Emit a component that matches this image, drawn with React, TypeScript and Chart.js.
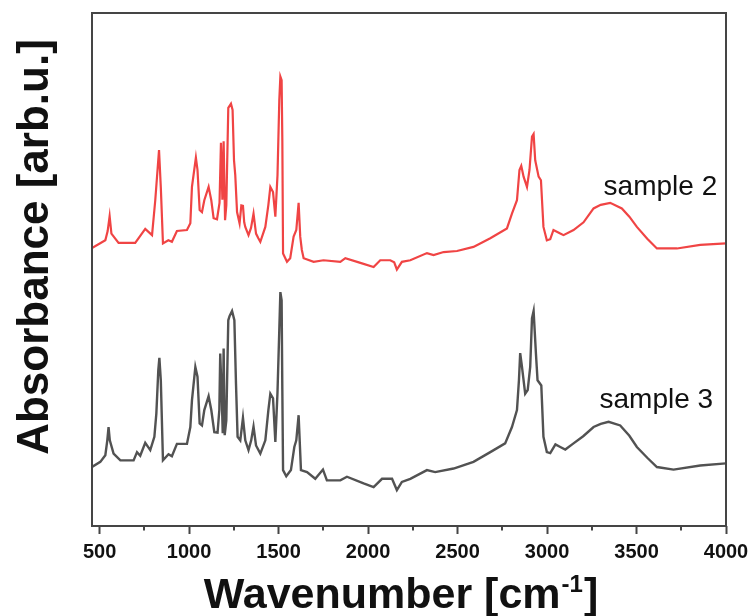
import React, { useEffect, useRef } from "react";
import { Chart, registerables } from "chart.js";

Chart.register(...registerables);

// ---- Data ----
const sample2Wavenumber = [
  457.5, 532, 545, 556, 566, 606, 699, 755, 793, 811,
  832, 842, 854, 884, 904, 932, 988, 1007, 1016, 1038,
  1047, 1059, 1072, 1085, 1109, 1124, 1137, 1156, 1170, 1178,
  1186, 1193, 1201, 1208, 1219, 1234, 1243, 1251, 1258, 1268,
  1282, 1292, 1301, 1308, 1314, 1332, 1346, 1360, 1374, 1387,
  1398, 1426, 1443, 1454, 1469, 1482, 1494, 1504, 1510, 1517,
  1521, 1525, 1547, 1565, 1584, 1599, 1612, 1621, 1630, 1640,
  1696, 1751, 1845, 1873, 1957, 2031, 2068, 2124, 2146, 2161,
  2189, 2236, 2329, 2366, 2422, 2497, 2589, 2683, 2776, 2804,
  2832, 2846, 2856, 2869, 2888, 2902, 2916, 2925, 2934, 2953,
  2966, 2980, 2999, 3018, 3036, 3074, 3092, 3148, 3204, 3260,
  3300, 3353, 3418, 3460, 3502, 3560, 3614, 3726, 3856, 4000,
];
const sample2Absorbance = [
  54.2, 55.7, 57.5, 60.4, 57.0, 55.2, 55.2, 57.9, 56.7, 63.5,
  73.3, 66.0, 55.1, 55.7, 55.4, 57.5, 57.7, 59.0, 66.1, 71.8,
  69.4, 61.6, 61.2, 63.5, 66.1, 63.5, 60.0, 59.8, 63.0, 74.7,
  63.6, 75.0, 59.6, 62.5, 81.5, 82.3, 81.1, 71.3, 68.4, 61.2,
  59.0, 62.5, 62.4, 59.2, 58.3, 56.7, 58.1, 60.9, 57.0, 56.1,
  55.4, 58.3, 62.6, 66.1, 65.1, 60.3, 68.4, 83.0, 87.6, 86.9,
  75.2, 53.1, 51.5, 52.2, 56.4, 57.7, 63.0, 56.4, 53.8, 52.2,
  51.5, 51.8, 51.5, 52.2, 51.3, 50.5, 51.8, 51.8, 51.4, 50.0,
  51.5, 51.8, 53.2, 52.8, 53.4, 53.6, 54.4, 56.1, 58.0, 60.9,
  63.5, 69.4, 70.2, 68.1, 66.1, 69.4, 75.9, 76.4, 71.3, 68.1,
  67.4, 58.3, 55.7, 55.9, 57.7, 57.0, 56.7, 57.7, 59.2, 61.9,
  62.6, 63.0, 61.9, 60.3, 58.3, 56.0, 54.1, 54.1, 54.8, 55.1,
];

const sample3Wavenumber = [
  457.5, 504, 532, 543, 550, 557, 578, 616, 690, 709,
  727, 755, 783, 806, 817, 828, 834, 842, 854, 885,
  904, 932, 988, 1007, 1016, 1035, 1047, 1059, 1072, 1085,
  1109, 1124, 1141, 1159, 1169, 1174, 1183, 1188, 1193, 1199,
  1208, 1219, 1226, 1240, 1253, 1262, 1271, 1286, 1301, 1314,
  1332, 1347, 1360, 1374, 1398, 1426, 1443, 1454, 1469, 1482,
  1494, 1504, 1510, 1517, 1521, 1525, 1543, 1569, 1588, 1599,
  1612, 1625, 1659, 1705, 1748, 1770, 1845, 1882, 1975, 2031,
  2078, 2134, 2161, 2189, 2236, 2329, 2375, 2478, 2589, 2683,
  2766, 2804, 2832, 2843, 2850, 2859, 2878, 2892, 2906, 2916,
  2925, 2938, 2947, 2968, 2980, 2999, 3018, 3047, 3074, 3102,
  3148, 3202, 3260, 3300, 3344, 3409, 3460, 3502, 3560, 3614,
  3707, 3856, 4000,
];
const sample3Absorbance = [
  11.5, 12.5, 13.8, 16.7, 19.3, 16.7, 14.1, 12.8, 12.8, 14.4,
  13.7, 16.2, 14.8, 17.4, 21.9, 30.4, 32.8, 28.4, 12.8, 14.0,
  13.6, 16.0, 16.0, 19.3, 24.5, 31.0, 29.1, 20.0, 19.6, 22.6,
  25.3, 22.6, 18.3, 18.2, 22.6, 33.6, 24.5, 18.1, 34.6, 17.7,
  20.6, 40.1, 40.9, 41.9, 40.1, 27.8, 17.4, 16.7, 21.1, 16.7,
  14.8, 16.7, 19.4, 15.7, 14.1, 16.7, 22.6, 25.8, 24.9, 16.4,
  26.1, 38.2, 45.6, 44.0, 26.5, 10.9, 9.7, 10.9, 15.4, 16.7,
  21.6, 10.9, 10.5, 9.2, 11.0, 8.9, 8.9, 9.6, 8.3, 7.6,
  9.2, 9.2, 7.0, 8.6, 9.2, 10.9, 10.5, 11.2, 12.5, 14.4,
  16.1, 19.3, 22.6, 28.4, 33.7, 31.3, 25.8, 26.5, 31.0, 40.5,
  41.9, 33.6, 28.4, 27.4, 17.4, 14.4, 14.2, 15.9, 15.4, 14.9,
  16.1, 17.5, 19.3, 19.9, 20.3, 19.6, 17.6, 15.4, 13.3, 11.5,
  11.0, 11.8, 12.2,
];

const seriesNames = ["sample 2", "sample 3"];
const seriesLabelAnchors = [
  { x: 3951, y: 64.5 },
  { x: 3928, y: 23.0 },
];
const majorTickValues = [500, 1000, 1500, 2000, 2500, 3000, 3500, 4000];
const minorTickValues = [750, 1250, 1750, 2250, 2750, 3250, 3750];
const xTitle = ["Wavenumber [cm", "-1", "]"];
const yTitle = "Absorbance [arb.u.]";

const FONT = "'Liberation Sans', Arial, Helvetica, sans-serif";
const FRAME = "#454545";

export default function App() {
  const canvasRef = useRef<HTMLCanvasElement>(null);

  useEffect(() => {
    document.body.style.margin = "0";
    const canvas = canvasRef.current;
    if (!canvas) return;

    const decor = {
      id: "decor",
      afterDraw(chart: any) {
        const { ctx, chartArea: a, scales } = chart;
        const xs = scales.x;
        const ys = scales.y;
        ctx.save();
        // frame
        ctx.strokeStyle = FRAME;
        ctx.lineWidth = 2;
        ctx.strokeRect(a.left, a.top, a.right - a.left, a.bottom - a.top);
        // minor ticks
        ctx.beginPath();
        for (const v of minorTickValues) {
          const px = Math.round(xs.getPixelForValue(v));
          ctx.moveTo(px, a.bottom);
          ctx.lineTo(px, a.bottom + 4.5);
        }
        ctx.stroke();
        // series labels
        ctx.fillStyle = "#111";
        ctx.font = `28px ${FONT}`;
        ctx.textAlign = "right";
        ctx.textBaseline = "alphabetic";
        seriesNames.forEach((name, i) => {
          const p = seriesLabelAnchors[i];
          ctx.fillText(name, xs.getPixelForValue(p.x), ys.getPixelForValue(p.y));
        });
        // x title with superscript
        const big = `bold 43px ${FONT}`;
        const small = `bold 24px ${FONT}`;
        ctx.font = big;
        const w1 = ctx.measureText(xTitle[0]).width;
        const w3 = ctx.measureText(xTitle[2]).width;
        ctx.font = small;
        const w2 = ctx.measureText(xTitle[1]).width;
        const total = w1 + w2 + w3 + 2;
        const cx = (a.left + a.right) / 2 - 8;
        let x0 = cx - total / 2;
        const baseY = 608;
        ctx.textAlign = "left";
        ctx.font = big;
        ctx.fillText(xTitle[0], x0, baseY);
        x0 += w1 + 1;
        ctx.font = small;
        ctx.fillText(xTitle[1], x0, baseY - 16);
        x0 += w2 + 1;
        ctx.font = big;
        ctx.fillText(xTitle[2], x0, baseY);
        // y title
        ctx.translate(36, 247);
        ctx.rotate(-Math.PI / 2);
        ctx.textAlign = "center";
        ctx.textBaseline = "middle";
        ctx.font = `bold 44px ${FONT}`;
        ctx.fillText(yTitle, 0, 0);
        ctx.restore();
      },
    };

    const chart = new Chart(canvas, {
      type: "line",
      data: {
        datasets: [
          {
            label: seriesNames[0],
            data: sample2Wavenumber.map((x, i) => ({ x, y: sample2Absorbance[i] })),
            borderColor: "#f04444",
            borderWidth: 2.2,
            pointRadius: 0,
            tension: 0,
          },
          {
            label: seriesNames[1],
            data: sample3Wavenumber.map((x, i) => ({ x, y: sample3Absorbance[i] })),
            borderColor: "#525252",
            borderWidth: 2.4,
            pointRadius: 0,
            tension: 0,
          },
        ],
      },
      options: {
        responsive: false,
        animation: false,
        layout: { padding: { top: 13, right: 26, left: 0, bottom: 0 } },
        plugins: { legend: { display: false }, tooltip: { enabled: false } },
        scales: {
          x: {
            type: "linear",
            min: 457.5,
            max: 4000,
            afterBuildTicks: (s: any) => {
              s.ticks = majorTickValues.map((v) => ({ value: v }));
            },
            ticks: {
              autoSkip: false,
              maxRotation: 0,
              color: "#111",
              padding: 6,
              font: { family: FONT, size: 20, weight: "bold" },
              callback: (v: any) => String(v),
            },
            grid: {
              drawOnChartArea: false,
              drawTicks: true,
              tickLength: 8,
              tickWidth: 2,
              tickColor: FRAME,
            },
            border: { display: false },
            afterFit: (s: any) => {
              s.height = 90;
              s.paddingLeft = 0;
              s.paddingRight = 0;
            },
          },
          y: {
            min: 0,
            max: 100,
            ticks: { display: false },
            grid: { display: false },
            border: { display: false },
            afterFit: (s: any) => {
              s.width = 92;
            },
          },
        },
      },
      plugins: [decor],
    } as any);

    return () => chart.destroy();
  }, []);

  return (
    <div style={{ width: 752, height: 616 }}>
      <canvas ref={canvasRef} width={752} height={616} style={{ display: "block" }} />
    </div>
  );
}
